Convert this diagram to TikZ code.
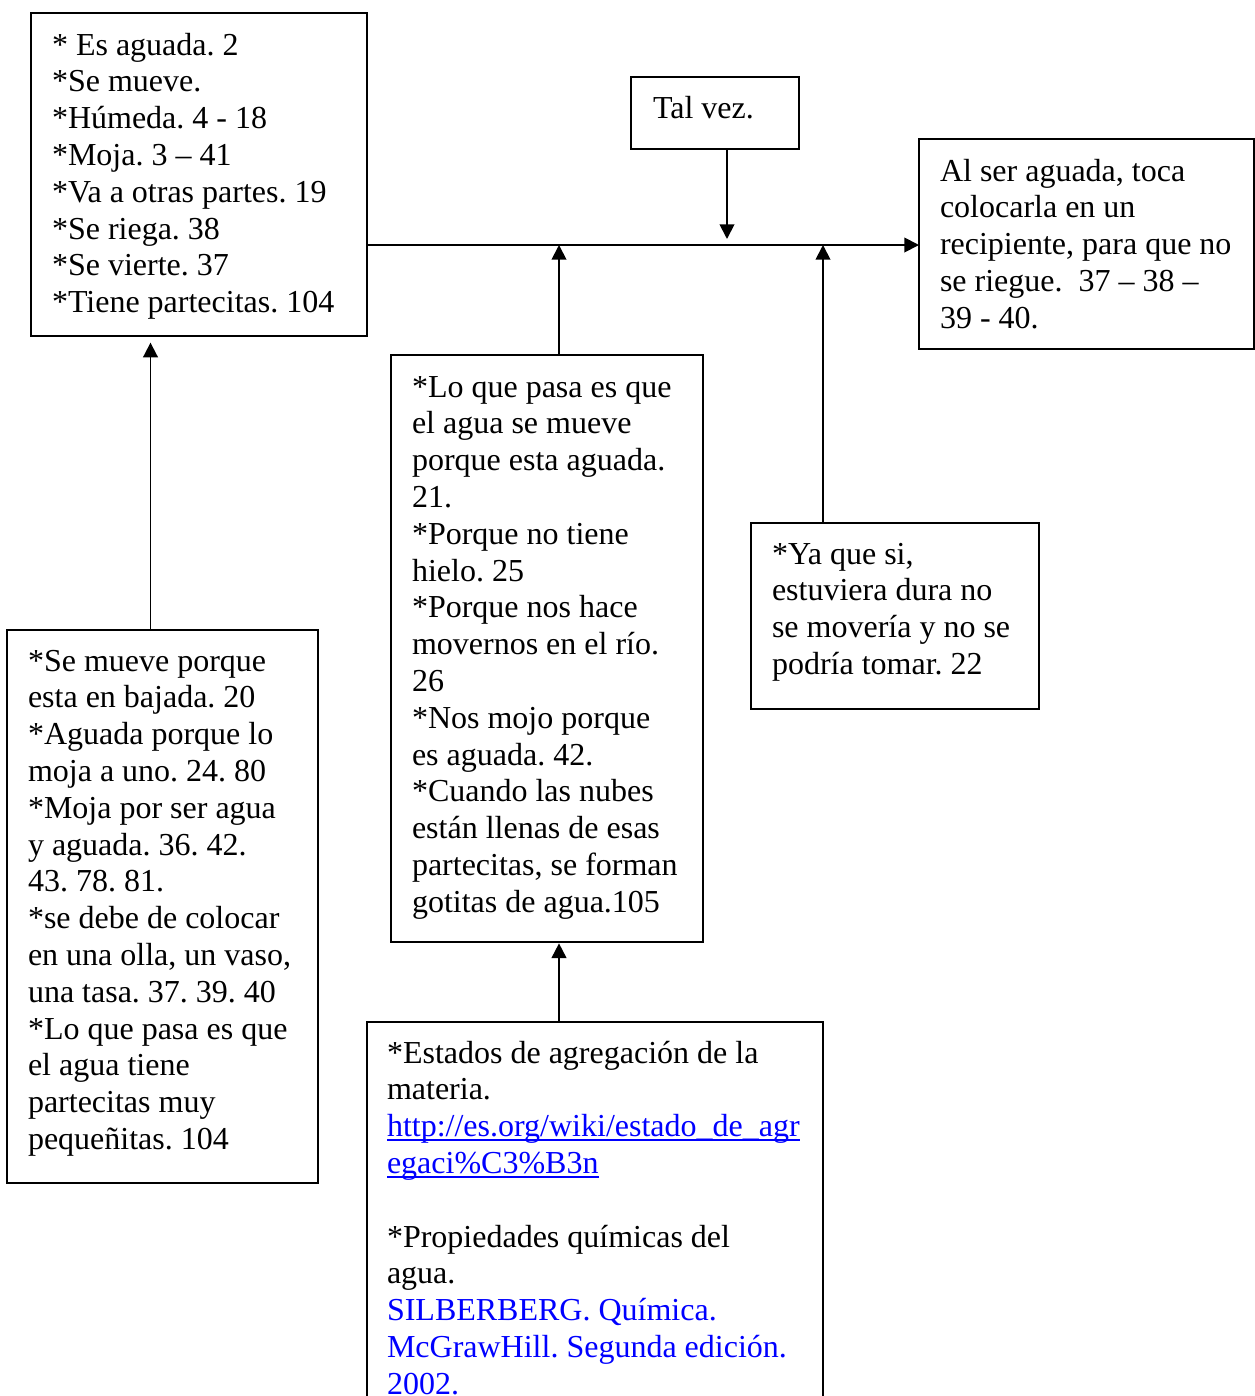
\documentclass[tikz,border=0pt]{standalone}
\usepackage{fontspec}
\setmainfont{Liberation Serif}
\usetikzlibrary{arrows.meta,fit}
\frenchspacing
\definecolor{linkblue}{RGB}{0,0,255}
% underlined hyperlink text with the rule just below the baseline
\newcommand\linkline[1]{\setbox0=\hbox{#1}\rlap{\vrule height -1.7pt depth 3.1pt width \wd0}\box0}
\newcommand\firstline{\rule{0pt}{22.5pt}}
\begin{document}
\begin{tikzpicture}[x=0.75pt,y=-0.75pt,
  box/.style={draw, line width=1.4pt, inner sep=0pt, outer sep=0pt},
  txt/.style={anchor=north west, inner sep=0pt, outer sep=0pt, align=left,
              font=\fontsize{24}{27.6}\selectfont},
  link/.style={-{Triangle[length=11pt,width=11pt]}, line width=1.4pt}]
\useasboundingbox (0,0) rectangle (1255,1396);
\clip (0,0) rectangle (1255,1396);

% frames
\node[box, fit={(31,13) (367,336)}] (obs) {};
\node[box, fit={(631,77) (799,149)}] (tal) {};
\node[box, fit={(919,139) (1254,349)}] (res) {};
\node[box, fit={(391,355) (703,942)}] (expl) {};
\node[box, fit={(751,523) (1039,709)}] (dura) {};
\node[box, fit={(7,630) (318,1183)}] (razon) {};
\node[box, fit={(367,1022) (823,1420)}] (fuentes) {};

% texts
\node[txt] (obsT) at (52,25) {\firstline* Es aguada. 2\\
*Se mueve.\\
*Húmeda. 4 - 18\\
*Moja. 3 – 41\\
*Va a otras partes. 19\\
*Se riega. 38\\
*Se vierte. 37\\
*Tiene partecitas. 104};

\node[txt] (talT) at (653,88) {\firstline Tal vez.};

\node[txt] (resT) at (940,151) {\firstline Al ser aguada, toca\\
colocarla en un\\
recipiente, para que no\\
se riegue.\ \ 37 – 38 –\\
39 - 40.};

\node[txt] (explT) at (412,367) {\firstline*Lo que pasa es que\\
el agua se mueve\\
porque esta aguada.\\
21.\\
*Porque no tiene\\
hielo. 25\\
*Porque nos hace\\
movernos en el río.\\
26\\
*Nos mojo porque\\
es aguada. 42.\\
*Cuando las nubes\\
están llenas de esas\\
partecitas, se forman\\
gotitas de agua.105};

\node[txt] (duraT) at (772,534) {\firstline*Ya que si,\\
estuviera dura no\\
se movería y no se\\
podría tomar. 22};

\node[txt] (razonT) at (28,641) {\firstline*Se mueve porque\\
esta en bajada. 20\\
*Aguada porque lo\\
moja a uno. 24. 80\\
*Moja por ser agua\\
y aguada. 36. 42.\\
43. 78. 81.\\
*se debe de colocar\\
en una olla, un vaso,\\
una tasa. 37. 39. 40\\
*Lo que pasa es que\\
el agua tiene\\
partecitas muy\\
pequeñitas. 104};

\node[txt] (fuentesT) at (387,1033) {\firstline*Estados de agregación de la\\
materia.\\
{\color{linkblue}\linkline{http://es.org/wiki/estado\_de\_agr}}\\
{\color{linkblue}\linkline{egaci\%C3\%B3n}}\\[27.6pt]
*Propiedades químicas del\\
agua.\\
{\color{linkblue}SILBERBERG. Química.}\\
{\color{linkblue}McGrawHill. Segunda edición.}\\
{\color{linkblue}2002.}};

% connectors
\coordinate (bus) at (0,245);
\draw[link] (obs.east |- bus) -- (res.west |- bus);
\draw[link, shorten >=4.5pt] ([xshift=9pt]tal.south) -- ([xshift=9pt]tal.south |- bus);
\draw[link] ([xshift=9pt]expl.north) -- ([xshift=9pt]expl.north |- bus);
\draw[link] ([xshift=-54pt]dura.north) -- ([xshift=-54pt]dura.north |- bus);
\draw[link, shorten >=5pt] ([xshift=-9pt]razon.north) -- ([xshift=-9pt]razon.north |- obs.south);
\draw[link, shorten >=1pt] ([xshift=-27pt]fuentes.north) -- ([xshift=-27pt]fuentes.north |- expl.south);
\end{tikzpicture}
\end{document}
